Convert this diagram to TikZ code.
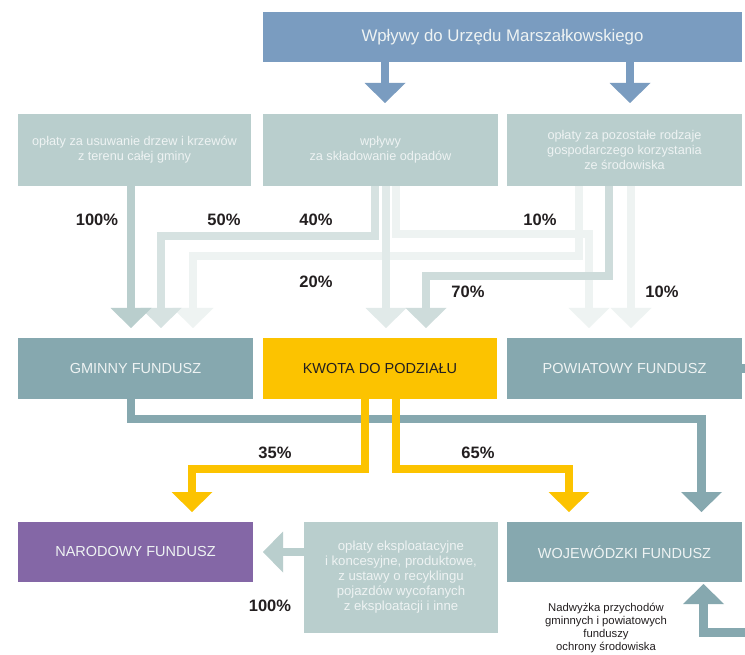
\documentclass[tikz,border=0pt]{standalone}
\usepackage{fontspec}
\setmainfont{Liberation Sans}
\usetikzlibrary{arrows.meta,calc}
\definecolor{topblue}{HTML}{7A9CC0}
\definecolor{srcbox}{HTML}{B9CECD}
\definecolor{fund}{HTML}{86A8AF}
\definecolor{kwotac}{HTML}{FCC300}
\definecolor{narod}{HTML}{8467A6}
\definecolor{paleA}{HTML}{D6E2E1}
\definecolor{paleB}{HTML}{EEF3F2}
\definecolor{paleC}{HTML}{E1EAE9}
\definecolor{paleD}{HTML}{CEDCDB}
\definecolor{labeltxt}{HTML}{231F20}
\definecolor{lighttxt}{HTML}{EEF3F3}
\tikzset{
  box/.style={rectangle, inner sep=0pt, outer sep=0pt, align=center},
  srcstyle/.style={box, fill=srcbox, text=lighttxt, font=\fontsize{12.7}{15}\selectfont},
  fundstyle/.style={box, fill=fund, text=lighttxt, font=\fontsize{14.5}{17}\selectfont},
  flow/.style={line width=8.5pt, line join=miter, -{Triangle[length=20pt,width=41pt,line width=0pt]}},
  plainflow/.style={line width=8.5pt, line join=miter},
  pct/.style={font=\fontsize{16.5}{18}\selectfont\bfseries, text=labeltxt, inner sep=0pt}
}
\begin{document}
\begin{tikzpicture}[x=1pt,y=-1pt]
\clip (0,0) rectangle (745,655);
\fill[white] (0,0) rectangle (745,655);

% boxes
\node[box, fill=topblue, text=lighttxt, font=\fontsize{16.8}{19}\selectfont, minimum width=479pt, minimum height=50pt] (top) at (502.5,37) {Wpływy do Urzędu Marszałkowskiego};
\node[srcstyle, minimum width=233pt, minimum height=72pt] (r2a) at (134.5,150) {opłaty za usuwanie drzew i krzewów\\z terenu całej gminy};
\node[srcstyle, minimum width=235pt, minimum height=72pt] (r2b) at (380.5,150) {wpływy\\za składowanie odpadów};
\node[srcstyle, minimum width=235pt, minimum height=72pt] (r2c) at (624.5,150) {opłaty za pozostałe rodzaje\\gospodarczego korzystania\\ze środowiska};

\node[fundstyle, minimum width=235pt, minimum height=61pt] (gminny) at (135.5,368.5) {GMINNY FUNDUSZ};
\node[box, fill=kwotac, text=labeltxt, font=\fontsize{14.5}{17}\selectfont, minimum width=234pt, minimum height=61pt] (kwota) at (380,368.5) {KWOTA DO PODZIAŁU};
\node[fundstyle, minimum width=235pt, minimum height=61pt] (powiat) at (624.5,368.5) {POWIATOWY FUNDUSZ};

\node[box, fill=narod, text=lighttxt, font=\fontsize{14.5}{17}\selectfont, minimum width=235pt, minimum height=60pt] (narod) at (135.5,552) {NARODOWY FUNDUSZ};
\node[srcstyle, font=\fontsize{13.2}{15}\selectfont, minimum width=194pt, minimum height=111pt] (mid) at (401,577.5) {opłaty eksploatacyjne\\i koncesyjne, produktowe,\\z ustawy o recyklingu\\pojazdów wycofanych\\z eksploatacji i inne};
\node[fundstyle, minimum width=235pt, minimum height=60pt] (woj) at (624.5,552) {WOJEWÓDZKI FUNDUSZ};

% top arrows
\draw[flow, topblue] ($(top.south)+(-117.5,0)$) -- ($(r2b.north)+(4.5,-11)$);
\draw[flow, topblue] ($(top.south)+(127.5,0)$) -- ($(r2c.north)+(5.5,-11)$);

% flows into funds (lightest first)
\draw[flow, paleB] ($(r2c.south)+(-45.5,0)$) |- ($(gminny.north)+(57.5,-82)$) -- ($(gminny.north)+(57.5,-10)$);
\draw[flow, paleB] ($(r2b.south)+(15.5,0)$) |- ($(powiat.north)+(-35.5,-104)$) -- ($(powiat.north)+(-35.5,-10)$);
\draw[flow, paleB] ($(r2c.south)+(6.5,0)$) -- ($(powiat.north)+(6.5,-10)$);
\draw[flow, paleC] ($(r2b.south)+(5.5,0)$) -- ($(kwota.north)+(6,-10)$);
\draw[flow, paleA] ($(r2b.south)+(-5.5,0)$) |- ($(gminny.north)+(25.5,-102)$) -- ($(gminny.north)+(25.5,-10)$);
\draw[flow, paleD] ($(r2c.south)+(-15.5,0)$) |- ($(kwota.north)+(46,-62)$) -- ($(kwota.north)+(46,-10)$);
\draw[flow, srcbox] ($(r2a.south)+(-3.5,0)$) -- ($(gminny.north)+(-4.5,-10)$);

% lower flows
\draw[flow, fund] ($(gminny.south)+(-4.5,0)$) |- ($(woj.north)+(77,-103)$) -- ($(woj.north)+(77,-10)$);
\draw[flow, kwotac] ($(kwota.south)+(-15,0)$) |- ($(narod.north)+(56.5,-53)$) -- ($(narod.north)+(56.5,-10)$);
\draw[flow, kwotac] ($(kwota.south)+(16,0)$) |- ($(woj.north)+(-55.5,-53)$) -- ($(woj.north)+(-55.5,-10)$);
\draw[flow, srcbox] (mid.west |- narod.east) -- ($(narod.east)+(10,0)$);

% flows leaving / entering the picture on the right
\coordinate (offR) at ($(powiat.east)+(20,0)$);
\draw[plainflow, fund] (powiat.east) -- (offR);
\coordinate (offB) at (770,632.5);
\draw[flow, fund] (offB) -| ($(woj.south)+(79,2)$);

% percentages
\node[pct] (p1) at (97,220) {100\%};
\node[pct] (p2) at (224,220) {50\%};
\node[pct] (p3) at (316,220) {40\%};
\node[pct] (p4) at (540,220) {10\%};
\node[pct] (p5) at (316,282) {20\%};
\node[pct] (p6) at (468,292) {70\%};
\node[pct] (p7) at (662,292) {10\%};
\node[pct] (p8) at (275,453) {35\%};
\node[pct] (p9) at (478,453) {65\%};
\node[pct] (p10) at (270,606) {100\%};

\node[align=center, text=labeltxt, font=\fontsize{11.3}{12.8}\selectfont, inner sep=0pt] (note) at (606,628) {Nadwyżka przychodów\\gminnych i powiatowych\\funduszy\\ochrony środowiska};
\end{tikzpicture}
\end{document}
